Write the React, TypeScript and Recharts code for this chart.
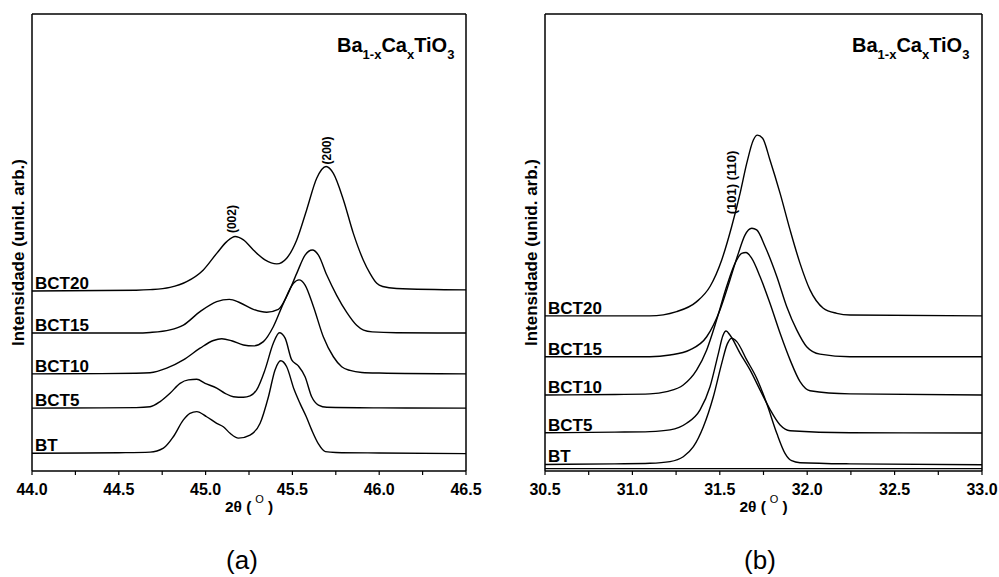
import { LineChart, Line, XAxis, YAxis, ReferenceLine, ReferenceDot, LabelList } from 'recharts';

type Pt = [number, number];

// panel (a): 2θ 44.0 – 46.5, intensities in arbitrary units (offset stack)
const BT_A: Pt[] = [
  [44.0, 6.2], [44.3, 6.3], [44.5, 6.4], [44.68, 6.6], [44.757, 8.0], [44.814, 12.0], [44.872, 17.9],
  [44.91, 20.2], [44.949, 20.8], [45.006, 19.0], [45.064, 16.7], [45.102, 15.5], [45.141, 13.2],
  [45.189, 11.5], [45.256, 12.6], [45.314, 16.7], [45.362, 26.0], [45.4, 35.4], [45.433, 38.6],
  [45.467, 36.5], [45.51, 28.5], [45.545, 23.5], [45.58, 19.0], [45.611, 14.4], [45.65, 9.5],
  [45.69, 6.8], [45.75, 6.5], [46.0, 6.3], [46.5, 6.1],
];
const BCT5_A: Pt[] = [
  [44.0, 22.0], [44.4, 22.1], [44.6, 22.2], [44.68, 22.5], [44.738, 24.3], [44.795, 27.2], [44.853, 30.7],
  [44.901, 31.9], [44.949, 32.1], [44.997, 30.7], [45.064, 29.0], [45.112, 27.2], [45.16, 26.0],
  [45.218, 25.8], [45.256, 26.3], [45.294, 28.4], [45.342, 35.4], [45.39, 44.7], [45.425, 48.4],
  [45.458, 46.5], [45.496, 38.9], [45.534, 36.8], [45.573, 33.0], [45.611, 26.0], [45.65, 23.1],
  [45.698, 22.3], [46.0, 22.1], [46.5, 22.0],
];
const BCT10_A: Pt[] = [
  [44.0, 34.0], [44.4, 34.1], [44.6, 34.2], [44.68, 34.4], [44.776, 36.0], [44.872, 38.9], [44.968, 43.0],
  [45.045, 45.7], [45.093, 46.3], [45.15, 45.6], [45.218, 44.1], [45.275, 43.8], [45.333, 45.3],
  [45.39, 50.5], [45.448, 58.7], [45.506, 65.7], [45.538, 66.9], [45.573, 65.1], [45.621, 57.6],
  [45.678, 47.0], [45.736, 40.0], [45.784, 36.5], [45.832, 35.2], [45.9, 34.5], [46.0, 34.3], [46.5, 34.0],
];
const BCT15_A: Pt[] = [
  [44.0, 48.3], [44.4, 48.3], [44.6, 48.3], [44.68, 48.5], [44.795, 49.4], [44.872, 51.1], [44.968, 55.8],
  [45.064, 59.3], [45.137, 60.1], [45.198, 58.9], [45.275, 56.6], [45.352, 55.6], [45.419, 56.6],
  [45.467, 61.1], [45.525, 69.2], [45.573, 75.6], [45.615, 77.4], [45.65, 75.6], [45.698, 68.6],
  [45.755, 61.5], [45.813, 55.5], [45.87, 51.0], [45.91, 49.3], [45.96, 48.7], [46.1, 48.4], [46.5, 48.3],
];
const BCT20_A: Pt[] = [
  [44.0, 63.0], [44.4, 63.2], [44.6, 63.3], [44.68, 63.5], [44.795, 64.3], [44.891, 66.3], [44.987, 70.4],
  [45.064, 76.2], [45.122, 80.3], [45.17, 82.1], [45.218, 80.9], [45.275, 77.4], [45.342, 73.9],
  [45.41, 72.5], [45.467, 74.5], [45.525, 80.9], [45.582, 91.4], [45.64, 102.5], [45.694, 106.6],
  [45.736, 104.2], [45.794, 94.9], [45.851, 83.2], [45.908, 73.9], [45.947, 69.2], [45.986, 65.7],
  [46.02, 64.6], [46.1, 63.9], [46.5, 63.4],
];

// panel (b): 2θ 30.5 – 33.0
const BT_B: Pt[] = [
  [30.5, 2.3], [30.9, 2.5], [31.1, 2.7], [31.215, 3.3], [31.291, 5.0], [31.349, 8.5], [31.406, 15.5],
  [31.463, 26.0], [31.511, 37.7], [31.543, 44.5], [31.568, 46.5], [31.597, 45.3], [31.654, 38.9],
  [31.711, 32.5], [31.768, 23.7], [31.826, 13.2], [31.873, 6.2], [31.911, 3.6], [31.959, 2.9],
  [32.245, 2.5], [33.0, 2.2],
];
const BCT5_B: Pt[] = [
  [30.5, 13.4], [30.9, 13.6], [31.1, 13.8], [31.215, 14.4], [31.31, 16.7], [31.387, 21.4],
  [31.444, 29.5], [31.492, 41.2], [31.517, 47.3], [31.536, 49.0], [31.558, 47.6], [31.616, 41.2],
  [31.673, 35.4], [31.73, 28.4], [31.787, 21.6], [31.845, 16.1], [31.902, 14.1], [32.245, 13.4],
  [33.0, 13.3],
];
const BCT10_B: Pt[] = [
  [30.5, 26.6], [30.9, 26.8], [31.1, 27.0], [31.196, 27.8], [31.291, 30.1], [31.368, 35.4],
  [31.425, 42.4], [31.482, 52.9], [31.539, 64.6], [31.587, 72.7], [31.625, 76.2], [31.65, 76.5],
  [31.682, 74.5], [31.73, 68.1], [31.787, 58.7], [31.845, 48.2], [31.902, 38.9], [31.959, 31.3],
  [32.016, 28.1], [32.245, 27.0], [33.0, 26.6],
];
const BCT15_B: Pt[] = [
  [30.5, 40.0], [30.9, 40.0], [31.1, 40.0], [31.215, 40.6], [31.329, 42.4], [31.425, 47.0],
  [31.501, 56.4], [31.558, 66.9], [31.606, 76.2], [31.644, 82.6], [31.683, 85.0], [31.711, 84.4],
  [31.759, 78.6], [31.826, 68.1], [31.883, 57.5], [31.94, 49.4], [31.997, 43.5], [32.073, 40.9],
  [32.245, 40.0], [33.0, 40.0],
];
const BCT20_B: Pt[] = [
  [30.5, 54.3], [30.9, 54.3], [31.1, 54.3], [31.253, 55.8], [31.368, 59.3], [31.444, 64.6],
  [31.511, 73.9], [31.568, 85.6], [31.616, 97.2], [31.654, 107.7], [31.692, 115.9], [31.715, 117.6],
  [31.745, 116.5], [31.787, 108.9], [31.845, 97.2], [31.902, 84.4], [31.959, 72.7], [32.016, 63.4],
  [32.092, 57.0], [32.169, 55.2], [32.245, 54.6], [33.0, 54.3],
];

const SAMPLES = ['BT', 'BCT5', 'BCT10', 'BCT15', 'BCT20'];
const SERIES_A = [BT_A, BCT5_A, BCT10_A, BCT15_A, BCT20_A];
const SERIES_B = [BT_B, BCT5_B, BCT10_B, BCT15_B, BCT20_B];

const X_TICKS_A = [44.0, 44.25, 44.5, 44.75, 45.0, 45.25, 45.5, 45.75, 46.0, 46.25, 46.5];
const X_TICKS_B = [30.5, 30.75, 31.0, 31.25, 31.5, 31.75, 32.0, 32.25, 32.5, 32.75, 33.0];
const Y_TICKS = [0, 10, 20, 30, 40, 50, 60, 70, 80, 90, 100, 110, 120, 130, 140, 150, 160];

const PEAKS_A = [
  { text: '(002)', x: 45.152, y: 88.2 },
  { text: '(200)', x: 45.7, y: 112.2 },
];
const PEAKS_B = [{ text: '(101) (110)', x: 31.568, y: 101 }];

const FONT = 'Arial, "Liberation Sans", Helvetica, sans-serif';
const INK = '#000';

const fmtTick = (v: number) => (Math.abs(v * 2 - Math.round(v * 2)) < 1e-6 ? v.toFixed(1) : '');

const XTick = (props: any) => {
  const s = fmtTick(props.payload.value);
  if (!s) return null;
  return (
    <text x={props.x} y={props.y} dy={11} textAnchor="middle" fontFamily={FONT} fontSize={16} fontWeight="bold" fill={INK}>
      {s}
    </text>
  );
};

const xLabel = (props: any) => {
  const vb = props.viewBox;
  const cx = vb.x + vb.width / 2;
  const y = vb.y + 41;
  return (
    <text x={cx} y={y} textAnchor="middle" fontFamily={FONT} fontSize={15.5} fontWeight="bold" fill={INK}>
      2θ (<tspan fontSize={11} fontWeight="normal" dx={4} dy={-9}>O</tspan>
      <tspan dx={4} dy={9}>)</tspan>
    </text>
  );
};

const yLabel = (props: any) => {
  const vb = props.viewBox;
  const x = vb.x + vb.width - 8;
  const y = vb.y + vb.height / 2 + 10;
  return (
    <text x={x} y={y} transform={`rotate(-90 ${x} ${y})`} textAnchor="middle" fontFamily={FONT} fontSize={17} fontWeight="bold" fill={INK}>
      Intensidade (unid. arb.)
    </text>
  );
};

const nameLabel = (name: string) => (props: any) => {
  if (props.index !== 0) return null;
  return (
    <text x={props.x + 3} y={props.y - 2} fontFamily={FONT} fontSize={17} fontWeight="bold" fill={INK}>
      {name}
    </text>
  );
};

const peakLabel = (text: string, size: number) => (props: any) => {
  const vb = props.viewBox;
  const cx = vb.x + (vb.width || 0) / 2;
  const cy = vb.y + (vb.height || 0) / 2;
  return (
    <text x={cx} y={cy} transform={`rotate(-90 ${cx} ${cy})`} textAnchor="middle" dominantBaseline="central"
      fontFamily={FONT} fontSize={size} fontWeight="bold" fill={INK}>
      {text}
    </text>
  );
};

interface PanelProps {
  width: number;
  margin: { top: number; right: number; bottom: number; left: number };
  domain: [number, number];
  xTicks: number[];
  series: Pt[][];
  peaks: { text: string; x: number; y: number }[];
  peakSize: number;
  floorLine?: number;
}

function Panel({ width, margin, domain, xTicks, series, peaks, peakSize, floorLine }: PanelProps) {
  const axisLine = { stroke: INK, strokeWidth: 1.5 };
  return (
    <LineChart width={width} height={520} margin={margin}>
      <XAxis xAxisId="top" orientation="top" type="number" dataKey="x" domain={domain} height={1}
        tick={false} tickLine={false} axisLine={axisLine} allowDataOverflow />
      <XAxis type="number" dataKey="x" domain={domain} ticks={xTicks} interval={0} height={45}
        tickSize={4} tickMargin={9} allowDataOverflow tick={<XTick />}
        tickLine={{ stroke: INK, strokeWidth: 1.2 }} axisLine={axisLine} label={{ content: xLabel }} />
      <YAxis type="number" domain={[0, 160]} ticks={Y_TICKS} interval={0} width={1} tickSize={-3}
        tick={false} tickLine={{ stroke: INK, strokeWidth: 1 }} axisLine={axisLine} allowDataOverflow
        label={{ content: yLabel }} />
      <YAxis yAxisId="r" orientation="right" type="number" domain={[0, 160]} ticks={Y_TICKS} interval={0}
        width={1} tickSize={-3} tick={false} tickLine={{ stroke: INK, strokeWidth: 1 }} axisLine={axisLine}
        allowDataOverflow />
      {floorLine !== undefined && <ReferenceLine y={floorLine} stroke={INK} strokeWidth={1.2} />}
      {series.map((pts, i) => (
        <Line key={SAMPLES[i]} data={pts.map(([x, y]) => ({ x, y }))} dataKey="y" type="monotone"
          stroke={INK} strokeWidth={1.4} dot={false} isAnimationActive={false}>
          <LabelList dataKey="y" content={nameLabel(SAMPLES[i])} />
        </Line>
      ))}
      {peaks.map((p) => (
        <ReferenceDot key={p.text} x={p.x} y={p.y} r={0} stroke="none" fill="none"
          label={peakLabel(p.text, peakSize)} />
      ))}
    </LineChart>
  );
}

function Formula({ left }: { left: number }) {
  const sub = { fontSize: 13, position: 'relative' as const, top: 7 };
  return (
    <div style={{ position: 'absolute', left, top: 35, fontSize: 20, lineHeight: '20px', fontWeight: 'bold', whiteSpace: 'nowrap' }}>
      Ba<span style={sub}>1-x</span>Ca<span style={sub}>x</span>TiO<span style={sub}>3</span>
    </div>
  );
}

function Tag({ center, text }: { center: number; text: string }) {
  return (
    <div style={{ position: 'absolute', left: center - 50, width: 100, top: 547, fontSize: 26, lineHeight: '26px', textAlign: 'center' }}>
      {text}
    </div>
  );
}

export default function App() {
  return (
    <div style={{ position: 'absolute', left: 0, top: 0, width: 999, height: 577, background: '#fff', fontFamily: FONT, color: INK }}>
      <div style={{ position: 'absolute', left: 0, top: 0 }}>
        <Panel width={500} margin={{ top: 13, right: 33, bottom: 4, left: 31 }} domain={[44, 46.5]}
          xTicks={X_TICKS_A} series={SERIES_A} peaks={PEAKS_A} peakSize={12} />
      </div>
      <div style={{ position: 'absolute', left: 500, top: 0 }}>
        <Panel width={499} margin={{ top: 13, right: 16, bottom: 4, left: 44 }} domain={[30.5, 33]}
          xTicks={X_TICKS_B} series={SERIES_B} peaks={PEAKS_B} peakSize={13} floorLine={0.8} />
      </div>
      <Formula left={337} />
      <Formula left={852} />
      <Tag center={242} text="(a)" />
      <Tag center={760} text="(b)" />
    </div>
  );
}
